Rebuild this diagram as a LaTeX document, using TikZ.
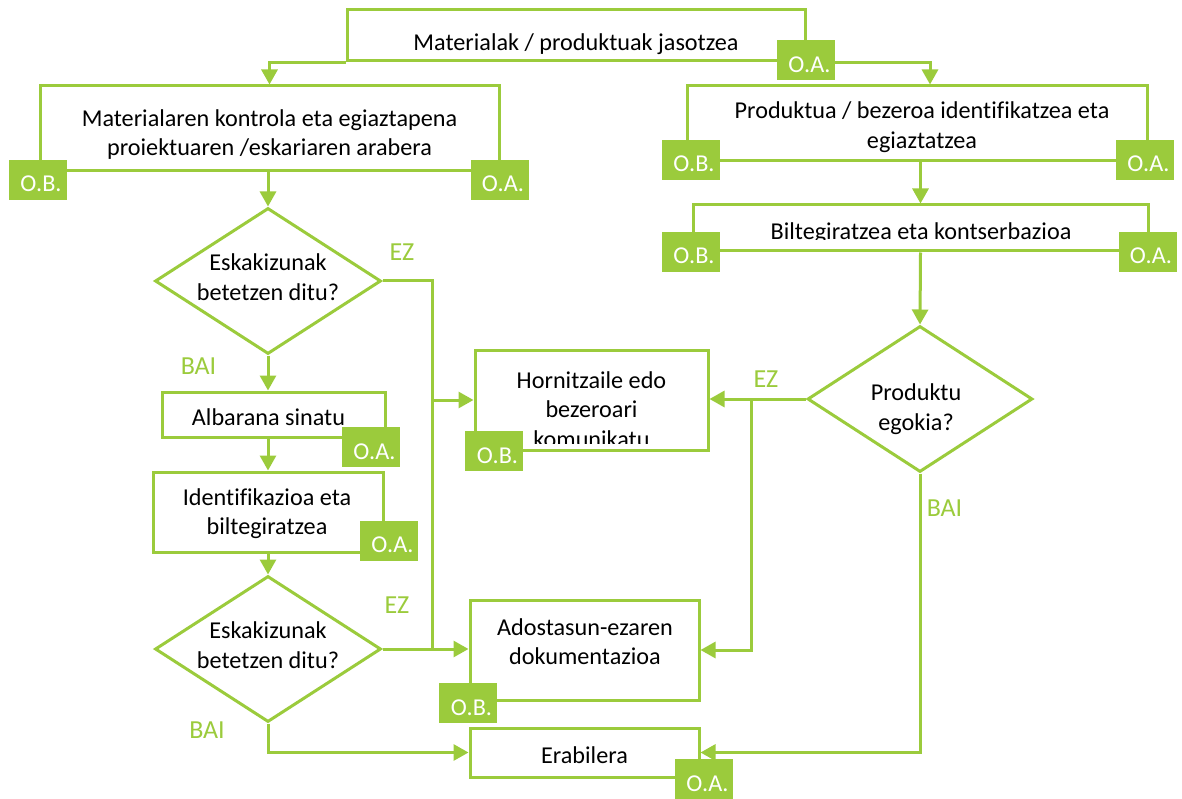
\documentclass[tikz,border=0pt]{standalone}
\usepackage{fontspec}
\setmainfont{Carlito}[Ligatures=NoCommon]
\usetikzlibrary{shapes.geometric,arrows.meta,calc}
\definecolor{lg}{RGB}{155,203,60}
\tikzset{
 box/.style={draw=lg, line width=3pt, rectangle, inner sep=0pt},
 dia/.style={draw=lg, line width=3pt, diamond, inner sep=0pt},
 txt/.style={font=\fontsize{24.2}{29.5}\selectfont, align=center, inner sep=0pt, text=black},
 badge/.style={fill=lg, inner sep=0pt, minimum width=58pt, minimum height=40pt, text height=24pt, text depth=0pt, text=white, font=\fontsize{24.2}{29}\selectfont, execute at begin node=\kern7pt},
 lbl/.style={text=lg, font=\fontsize{26}{29}\selectfont, inner sep=0pt},
 conn/.style={draw=lg, line width=3pt},
 arr/.style={conn, -{Triangle[length=15pt,width=16pt]}},
}
\begin{document}
\begin{tikzpicture}[x=1pt,y=-1pt]
\useasboundingbox (0,0) rectangle (1182,799);

% boxes
\node[box, minimum width=458pt, minimum height=51pt] (T) at (576,35.5) {};
\node[box, minimum width=459pt, minimum height=85pt] (B1) at (269.5,128.5) {};
\node[box, minimum width=460pt, minimum height=75pt] (B2) at (917,123.5) {};
\node[box, minimum width=455pt, minimum height=46pt] (BT) at (920.5,228) {};
\node[dia, minimum width=226pt, minimum height=146pt] (D1) at (268,281) {};
\node[box, minimum width=223pt, minimum height=45pt] (AL) at (273.5,414.5) {};
\node[box, minimum width=230pt, minimum height=80pt] (ID) at (268,512) {};
\node[dia, minimum width=226pt, minimum height=146pt] (D2) at (268,649) {};
\node[box, minimum width=233pt, minimum height=100pt] (H) at (591.5,400) {};
\node[dia, minimum width=225pt, minimum height=146pt] (D3) at (920,399) {};
\node[box, minimum width=229pt, minimum height=100pt] (A) at (584.5,650) {};
\node[box, minimum width=229pt, minimum height=49pt] (E) at (584.5,752.5) {};

% texts
\node[txt] (Tt) at (576,44) {Materialak / produktuak jasotzea};
\node[txt] (B1t) at (269.5,134.5) {Materialaren kontrola eta egiaztapena\\proiektuaren /eskariaren arabera};
\node[txt] (B2t) at (922,127) {Produktua / bezeroa identifikatzea eta\\egiaztatzea};
\begin{scope}
\clip (BT.north west) rectangle ([yshift=12.5pt]BT.south east);
\node[txt] (BTt) at (921,233) {Biltegiratzea eta kontserbazioa};
\end{scope}
\node[txt] (D1t) at (268,277) {Eskakizunak\\betetzen ditu?};
\node[txt] (ALt) at (268.5,417) {Albarana sinatu};
\node[txt] (IDt) at (267,513.5) {Identifikazioa eta\\biltegiratzea};
\node[txt] (D2t) at (268,645) {Eskakizunak\\betetzen ditu?};
\begin{scope}
\clip (H.north west) rectangle ([yshift=8.5pt]H.south east);
\node[txt] (Ht) at (591.5,409.5) {Hornitzaile edo\\bezeroari\\komunikatu};
\end{scope}
\node[txt] (D3t) at (916,409) {Produktu\\egokia?};
\node[txt] (At) at (585,641.5) {Adostasun-ezaren\\dokumentazioa};
\node[txt] (Et) at (584.5,755) {Erabilera};

% labels
\node[lbl] (ez1) at (402,252) {EZ};
\node[lbl] (bai1) at (198.5,366) {BAI};
\node[lbl] (ez2) at (397,605) {EZ};
\node[lbl] (bai2) at (207,730.5) {BAI};
\node[lbl] (ez3) at (766,379) {EZ};
\node[lbl] (bai3) at (944.5,508.5) {BAI};

% connectors
\draw[arr] (T.south west) -| (B1.north);
\draw[arr] (T.south east) -| ([xshift=13pt]B2.north);
\draw[arr] (D1.north |- B1.south) -- (D1.north);
\draw[arr] (D1.south) -- (D1.south |- AL.north);
\draw[arr] (ID.north |- AL.south) -- (ID.north);
\draw[arr] (ID.south) -- (D2.north);
\path (H.west) ++(-41,0) coordinate (j1);
\draw[conn] (D1.east) -| (j1);
\draw[arr] (j1) -- (H.west);
\draw[arr] (D2.east) -- (D2.east -| A.west);
\draw[conn] (j1) -- (j1 |- D2.east);
\draw[arr] (D2.south) |- (E.west);
\draw[arr] (D3.west) -- (D3.west -| H.east);
\path (D3.west) ++(-55,0) coordinate (j2);
\draw[arr] (j2) |- (A.east);
\draw[arr] (D3.south) |- (E.east);
\draw[arr] (BT.north |- B2.south) -- (BT.north);
\draw[arr] (BT.south) -- (D3.north);

% badges
\node[badge] (Toa) at (806,60.5) {O.A.};
\node[badge] (B1ob) at (37.5,180) {O.B.};
\node[badge] (B1oa) at (499.5,180) {O.A.};
\node[badge] (B2ob) at (690.5,160) {O.B.};
\node[badge] (B2oa) at (1145,160) {O.A.};
\node[badge] (BTob) at (690.5,252) {O.B.};
\node[badge] (BToa) at (1147.5,252) {O.A.};
\node[badge] (ALoa) at (371,447) {O.A.};
\node[badge] (IDoa) at (389,540.5) {O.A.};
\node[badge] (Hob) at (494,451) {O.B.};
\node[badge] (Aob) at (468,703) {O.B.};
\node[badge] (Eoa) at (704,779) {O.A.};
\end{tikzpicture}
\end{document}
